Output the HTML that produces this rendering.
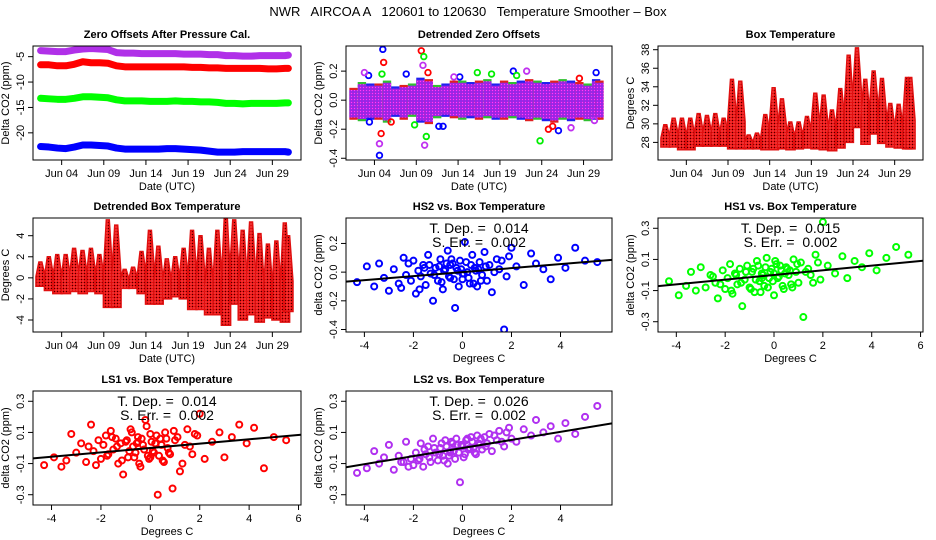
<!DOCTYPE html>
<html><head><meta charset="utf-8"><style>
body{margin:0;background:#fff}
svg{display:block;font-family:"Liberation Sans",sans-serif}
</style></head><body>
<svg id="c" width="936" height="540" viewBox="0 0 936 540">
<defs>
<pattern id="pt" width="3" height="3" patternUnits="userSpaceOnUse"><rect width="3" height="3" fill="#e81010"/><rect x="0" y="0" width="1" height="1" fill="#400000"/><rect x="1.5" y="1.5" width="1" height="1" fill="#ff9090"/></pattern>
<pattern id="pz" width="3" height="3" patternUnits="userSpaceOnUse"><rect width="3" height="3" fill="#b020e0"/><rect x="0" y="0" width="1" height="1" fill="#ff40ff"/><rect x="1.5" y="1.5" width="1" height="1" fill="#4040ff"/></pattern>
<pattern id="pp" width="3" height="3" patternUnits="userSpaceOnUse"><rect width="3" height="3" fill="#c040f0"/><rect x="0" y="0" width="1.2" height="1.2" fill="#3030ff"/><rect x="1.5" y="1.5" width="1" height="1" fill="#ff60ff"/></pattern>
</defs>
<text x="468" y="16" text-anchor="middle" font-size="13" style="white-space:pre" xml:space="preserve">NWR   AIRCOA A   120601 to 120630   Temperature Smoother – Box</text>
</svg>
<script>
// ---- data ----
const days=[1.5,2.5,3.5,4.5,5.5,6.5,7.5,8.5,9.5,10.5,11.5,12.5,13.5,14.5,15.5,16.5,17.5,18.5,19.5,20.5,21.5,22.5,23.5,24.5,25.5,26.5,27.5,28.5,29.5,30.5,30.9];
const zeroPurple=[-3.8,-3.9,-4.0,-4.0,-3.7,-3.5,-3.4,-3.5,-3.6,-4.2,-4.3,-4.3,-4.4,-4.4,-4.4,-4.4,-4.4,-4.5,-4.5,-4.5,-4.6,-4.6,-4.8,-4.8,-4.9,-4.9,-4.8,-4.8,-4.8,-4.8,-4.7];
const zeroRed=[-6.6,-6.6,-6.8,-6.8,-6.5,-6.0,-6.2,-6.2,-6.3,-6.8,-7.0,-7.0,-7.0,-7.0,-7.0,-7.0,-7.0,-7.0,-7.1,-7.1,-7.2,-7.2,-7.3,-7.3,-7.3,-7.3,-7.3,-7.4,-7.4,-7.3,-7.3];
const zeroGreen=[-13.2,-13.3,-13.4,-13.4,-13.2,-12.9,-12.9,-13.0,-13.1,-13.5,-13.7,-13.7,-13.7,-13.8,-13.8,-13.8,-13.7,-13.8,-13.8,-13.9,-13.9,-14.0,-14.2,-14.2,-14.3,-14.2,-14.2,-14.2,-14.2,-14.1,-14.1];
const zeroBlue=[-22.7,-22.8,-23.0,-23.1,-22.8,-22.4,-22.4,-22.5,-22.6,-23.0,-23.2,-23.2,-23.2,-23.2,-23.2,-23.1,-23.1,-23.2,-23.3,-23.4,-23.6,-23.8,-23.8,-23.8,-23.7,-23.7,-23.7,-23.7,-23.7,-23.7,-23.8];
const detZeroLo=[-0.12,-0.13,-0.12,-0.12,-0.14,-0.10,-0.12,-0.10,-0.14,-0.15,-0.11,-0.10,-0.11,-0.12,-0.11,-0.12,-0.11,-0.12,-0.12,-0.11,-0.12,-0.13,-0.12,-0.13,-0.14,-0.12,-0.13,-0.12,-0.13,-0.12,-0.12];
const detZeroHi=[0.07,0.11,0.10,0.10,0.12,0.08,0.09,0.10,0.14,0.13,0.09,0.10,0.12,0.12,0.11,0.12,0.13,0.10,0.12,0.11,0.12,0.13,0.12,0.11,0.12,0.13,0.12,0.11,0.10,0.13,0.12];
const outDay=[4.6,4.6,4.8,4.9,5.0,5.1,9.6,9.8,9.9,10.2,10.4,3.3,3.4,10.0,12.2,23.8,20.6,22.2,24.8,26.0,27.5,28.5,16.3,14.2,2.8,7.8,11.7,18.0,25.3,30.5,30.3,21.0,13.5,8.8,6.0];
const outVal=[-0.38,-0.30,-0.23,0.18,0.35,0.26,0.34,0.24,0.30,-0.25,0.19,0.17,-0.15,-0.31,-0.18,-0.28,0.20,0.20,-0.20,-0.21,-0.19,0.15,0.19,0.16,0.19,0.18,-0.18,0.18,-0.18,0.19,-0.14,0.17,0.16,-0.17,-0.15];
const outCol=[2,3,0,1,2,0,0,3,1,1,0,2,2,3,2,1,2,3,0,2,3,0,1,2,3,2,2,1,0,2,3,1,3,1,0];
const tempLo=[27.5,27.5,27.2,27.2,27.6,27.6,27.6,27.6,27.3,27.3,27.3,27.3,27.2,27.2,27.3,27.2,27.3,27.4,27.3,27.2,27.1,27.4,28.0,29.6,27.8,28.9,27.9,27.5,27.4,27.3,27.3];
const tempHi=[29.9,30.6,30.6,30.6,31.1,30.9,31.1,30.6,34.8,34.6,28.8,29.0,31.0,33.9,32.7,30.2,30.2,30.8,33.3,33.1,31.5,33.8,37.4,38.2,34.8,35.7,34.9,32.2,32.1,35.0,35.0];
const detTempLo=[-0.8,-1.2,-1.5,-1.5,-1.3,-1.5,-1.3,-1.5,-2.8,-2.8,-1.0,-1.0,-1.5,-2.5,-2.5,-2.0,-1.8,-2.0,-3.0,-3.0,-3.5,-3.5,-4.5,-2.5,-4.0,-3.5,-4.2,-3.8,-4.0,-4.2,-3.2];
const detTempHi=[1.5,2.0,2.2,2.2,2.8,2.6,2.8,2.2,5.5,5.0,0.8,1.0,2.5,4.5,3.0,1.8,2.0,2.8,4.5,4.0,2.8,4.5,5.8,5.5,4.5,5.3,4.2,3.2,3.5,5.2,4.0];
const boxT=[-4.3,-3.9,-3.6,-3.4,-3.2,-3.0,-2.8,-2.6,-2.4,-2.3,-2.1,-2.0,-1.9,-1.8,-1.7,-1.6,-1.5,-1.4,-1.3,-1.2,-1.1,-1.0,-0.9,-0.8,-0.7,-0.6,-0.5,-0.4,-0.3,-0.2,-0.1,0.0,0.1,0.2,0.3,0.4,0.5,0.6,0.7,0.8,0.9,1.0,1.1,1.2,1.4,1.5,1.7,1.9,2.0,2.2,2.5,2.8,3.0,3.3,3.6,3.9,4.2,4.6,5.0,5.5,-1.35,-1.15,-0.95,-0.85,-0.75,-0.65,-0.55,-0.45,-0.35,-0.25,-0.15,-0.05,0.05,0.15,0.25,0.35,0.45,0.55,-1.75,-1.55,-2.2,-2.5,0.65,0.75,0.95,1.3,1.6,1.8,-0.5,0.0];
const ls1Y=[-0.11,-0.06,-0.12,-0.08,0.09,-0.03,0.03,-0.09,0.15,-0.02,0.05,-0.07,0.02,0.08,-0.04,0.11,-0.01,0.06,-0.10,0.03,-0.17,0.04,-0.06,0.12,0.01,-0.03,0.07,-0.12,0.02,0.18,-0.05,0.09,-0.02,0.03,-0.30,0.06,-0.08,0.10,0.00,-0.04,-0.26,0.05,0.07,-0.15,0.02,0.12,-0.04,0.08,0.22,-0.07,0.04,0.10,-0.06,0.07,0.15,0.03,0.13,-0.13,0.07,0.05,0.01,-0.08,0.05,-0.02,0.10,-0.06,0.03,-0.10,0.06,-0.01,0.14,-0.07,0.04,-0.03,0.08,-0.05,0.02,-0.09,-0.05,0.07,-0.11,0.01,0.06,-0.03,0.11,-0.10,0.01,0.09,0.04,-0.06];
const hs1Y=[-0.04,-0.13,-0.07,0.02,-0.10,0.05,-0.08,0.00,-0.05,-0.15,0.03,-0.09,-0.02,0.07,-0.12,0.01,-0.06,0.04,-0.20,-0.03,0.06,-0.08,0.02,-0.11,0.09,-0.04,0.01,-0.07,0.11,-0.02,0.04,-0.13,0.07,-0.01,0.03,-0.09,0.05,0.00,-0.06,0.10,0.02,-0.05,0.08,-0.27,0.04,0.00,0.13,-0.03,0.34,0.06,0.01,0.12,-0.02,0.09,0.05,0.14,0.03,0.11,0.18,0.13,-0.05,0.02,-0.09,0.04,-0.03,0.06,-0.11,0.00,0.05,-0.08,0.02,-0.04,0.09,-0.02,0.06,-0.07,0.01,0.04,-0.10,0.00,-0.06,-0.01,0.03,-0.08,0.07,0.02,-0.05,0.08,-0.02,0.01];
const hs2Y=[-0.07,0.04,-0.10,0.06,-0.04,-0.13,0.02,-0.08,0.10,-0.02,-0.06,0.08,-0.15,0.01,-0.03,0.05,-0.09,0.12,-0.01,-0.20,0.03,-0.06,0.09,-0.12,0.02,0.15,-0.04,0.06,-0.25,0.01,0.08,-0.05,0.21,0.00,-0.08,0.12,0.03,-0.10,0.07,-0.02,0.14,-0.06,0.05,-0.14,0.09,0.02,-0.40,0.11,0.17,0.04,-0.09,0.13,0.06,0.02,-0.05,0.10,0.03,0.17,0.08,0.07,0.05,-0.02,0.04,-0.07,0.01,0.06,-0.03,0.09,-0.05,0.03,-0.10,0.02,-0.01,0.07,-0.04,0.05,-0.08,0.01,-0.12,0.03,0.06,-0.11,0.02,-0.06,0.04,0.00,0.08,-0.03,0.05,-0.01];
const ls2Y=[-0.16,-0.13,-0.02,-0.10,-0.06,0.02,-0.14,-0.05,-0.09,0.04,-0.07,-0.11,-0.03,-0.08,0.03,-0.12,-0.04,0.01,-0.09,0.06,-0.03,-0.08,0.00,-0.05,0.05,-0.10,-0.02,0.03,-0.07,0.02,-0.22,0.01,-0.04,0.06,0.00,0.04,-0.03,0.08,0.02,-0.01,0.07,0.03,0.09,-0.02,0.05,0.11,0.01,0.13,0.06,0.04,0.12,0.08,0.18,0.10,0.14,0.06,0.16,0.09,0.20,0.27,-0.06,0.00,-0.04,0.03,-0.08,0.01,-0.05,0.04,-0.02,0.06,-0.03,0.02,-0.06,0.05,-0.01,0.07,0.00,-0.04,-0.07,-0.01,-0.12,-0.09,0.03,0.06,0.01,0.08,0.04,0.10,-0.03,0.02];
const slopes=[0.014,0.015,0.014,0.026];
const stdErrs=["0.002","0.002","0.002","0.002"];
const dayTicks=[4,9,14,19,24,29];
const dayTickLabels=["Jun 04","Jun 09","Jun 14","Jun 19","Jun 24","Jun 29"];
const tempXTicks=[-4,-2,0,2,4,6];

// ---- drawing ----
const NS="http://www.w3.org/2000/svg";
const svg=document.getElementById('c');
function el(tag,attrs,parent){const e=document.createElementNS(NS,tag);for(const k in attrs)e.setAttribute(k,attrs[k]);(parent||svg).appendChild(e);return e;}
const Ls=[33,346,658],Rs=[301,612,923],Ts=[46,218,391];
function panel(col,row,name,title,xlab,ylab,ymin,ymax,yticks,ytl,xmin,xmax,xticks,xtl){
  const g=el('g',{});
  
  
  const L=Ls[col],R=Rs[col],T=Ts[row],B=T+114;
  const sy=v=>B-(v-ymin)/(ymax-ymin)*(B-T);
  const sx=v=>L+(v-xmin)/(xmax-xmin)*(R-L);
  const t=el('text',{x:(L+R)/2,y:T-8,'text-anchor':'middle','font-size':11,'font-weight':'bold'},g);t.textContent=title;
  
  const xl=el('text',{x:(L+R)/2,y:B+30,'text-anchor':'middle','font-size':11},g);xl.textContent=xlab;
  
  const yl=el('text',{x:0,y:0,transform:`translate(${L-24},${(T+B)/2}) rotate(-90)`,'text-anchor':'middle','font-size':11},g);yl.textContent=ylab;
  
  xticks.forEach((v,i)=>{const x=sx(v);el('line',{x1:x,x2:x,y1:B,y2:B+5,stroke:'#000'},g);
    const tl=el('text',{x:x,y:B+17,'text-anchor':'middle','font-size':11},g);tl.textContent=xtl[i];
    });
  yticks.forEach((v,i)=>{const y=sy(v);el('line',{x1:L-5,x2:L,y1:y,y2:y,stroke:'#000'},g);
    const tl=el('text',{x:0,y:0,transform:`translate(${L-9},${y}) rotate(-90)`,'text-anchor':'middle','font-size':11},g);tl.textContent=ytl[i];
    });
  const clip=el('clipPath',{id:'cl'+col+row},g);el('rect',{x:L,y:T,width:R-L,height:B-T},clip);
  const plot=el('g',{'clip-path':`url(#cl${col}${row})`},g);
  return {g,plot,sx,sy,L,R,T,B};
}
// Panel 1
const d0=0.6,d1=32.4;
let p=panel(0,0,'zero-offsets-panel','Zero Offsets After Pressure Cal.','Date (UTC)','Delta CO2 (ppm)',-25.35,-2.9,[-5,-10,-15,-20],['-5','-10','-15','-20'],d0,d1,dayTicks,dayTickLabels);
[[zeroBlue,'#0000ff','series-blue'],[zeroGreen,'#00ff00','series-green'],[zeroRed,'#ff0000','series-red'],[zeroPurple,'#b030e8','series-purple']].forEach(([arr,c,n])=>{
  const pts=days.map((d,i)=>p.sx(d)+','+p.sy(arr[i])).join(' ');
  const l=el('polyline',{points:pts,fill:'none',stroke:c,'stroke-width':7,'stroke-linecap':'round','stroke-linejoin':'round'},p.plot);
  
});
el('rect',{x:p.L,y:p.T,width:p.R-p.L,height:114,fill:'none',stroke:'#000'},p.g);
// Panel 2
p=panel(1,0,'detrended-zero-offsets-panel','Detrended Zero Offsets','Date (UTC)','Delta CO2 (ppm)',-0.412,0.373,[0.2,0.0,-0.2,-0.4],['0.2','0.0','-0.2','-0.4'],d0,d1,dayTicks,dayTickLabels);
days.forEach((d,i)=>{
  const x1=p.sx(d-0.5),x2=p.sx(d+0.5);
  const b=el('rect',{x:x1,y:p.sy(detZeroHi[i]+0.015),width:x2-x1,height:p.sy(detZeroLo[i]-0.015)-p.sy(detZeroHi[i]+0.015),fill:i%3===0?'#e02020':(i%3===1?'#30c030':'#2020f0')},p.plot);
  
  const r=el('rect',{x:x1,y:p.sy(detZeroHi[i]),width:x2-x1,height:p.sy(detZeroLo[i])-p.sy(detZeroHi[i]),fill:'url(#pz)'},p.plot);
  
});
const oc=['#ff0000','#00ee00','#0000ff','#c030f0'];
outDay.forEach((d,i)=>{const c=el('circle',{cx:p.sx(d),cy:p.sy(outVal[i]),r:2.8,fill:'none',stroke:oc[outCol[i]],'stroke-width':1.8},p.plot);
  });
el('rect',{x:p.L,y:p.T,width:p.R-p.L,height:114,fill:'none',stroke:'#000'},p.g);
// Panel 3 & 4 temperature bands
function tempPanel(col,row,name,title,ylab,ymin,ymax,yt,ytl,lo,hi){
  const p=panel(col,row,name,title,'Date (UTC)',ylab,ymin,ymax,yt,ytl,d0,d1,dayTicks,dayTickLabels);
  days.forEach((d,i)=>{
    const mid=lo[i]+(hi[i]-lo[i])*0.4;
    const pts=[[d-0.55,lo[i]],[d-0.55,mid],[d-0.2,hi[i]],[d+0.15,hi[i]],[d+0.55,mid],[d+0.55,lo[i]]].map(q=>p.sx(q[0])+','+p.sy(q[1])).join(' ');
    const s=el('polygon',{points:pts,fill:'url(#pt)',stroke:'#e01010','stroke-width':1.5},p.plot);
    
  });
  el('rect',{x:p.L,y:p.T,width:p.R-p.L,height:114,fill:'none',stroke:'#000'},p.g);
}
tempPanel(2,0,'box-temperature-panel','Box Temperature','Degrees C',26.1,38.4,[28,30,32,34,36,38],['28','30','32','34','36','38'],tempLo,tempHi);
tempPanel(0,1,'detrended-box-temp-panel','Detrended Box Temperature','Degrees C',-5.14,5.68,[-4,-2,0,2,4],['-4','-2','0','2','4'],detTempLo,detTempHi);
// Scatter panels
function scatter(col,row,name,title,ys,color,k,ymin,ymax,yt,ytl){
  const xmin=-4.75,xmax=6.1;
  const xt=col===1?[-4,-2,0,2,4]:tempXTicks;
  const p=panel(col,row,name,title,'Degrees C','delta CO2 (ppm)',ymin,ymax,yt,ytl,xmin,xmax,xt,xt.map(String));
  boxT.forEach((x,i)=>{const c=el('circle',{cx:p.sx(x),cy:p.sy(ys[i]),r:3,fill:'none',stroke:color,'stroke-width':2},p.plot);
    });
  const ln=el('line',{x1:p.sx(xmin),y1:p.sy(slopes[k]*xmin),x2:p.sx(xmax),y2:p.sy(slopes[k]*xmax),stroke:'#000','stroke-width':2},p.plot);
  
  const cx=(p.L+p.R)/2;
  const a=el('text',{x:cx,y:p.T+15,'text-anchor':'middle','font-size':14,style:'white-space:pre'},p.g);a.textContent='T. Dep. =  '+slopes[k].toFixed(3);
  
  const b=el('text',{x:cx,y:p.T+29,'text-anchor':'middle','font-size':14,style:'white-space:pre'},p.g);b.textContent='S. Err. =  '+stdErrs[k];
  
  el('rect',{x:p.L,y:p.T,width:p.R-p.L,height:114,fill:'none',stroke:'#000'},p.g);
}
const t3=[0.3,0.1,-0.1,-0.3],t3l=['0.3','0.1','-0.1','-0.3'];
scatter(1,1,'hs2-scatter-panel','HS2 vs. Box Temperature',hs2Y,'#0000ff',0,-0.4175,0.3775,[0.2,0.0,-0.2,-0.4],['0.2','0.0','-0.2','-0.4']);
scatter(2,1,'hs1-scatter-panel','HS1 vs. Box Temperature',hs1Y,'#00ff00',1,-0.366,0.366,t3,t3l);
scatter(0,2,'ls1-scatter-panel','LS1 vs. Box Temperature',ls1Y,'#ff0000',2,-0.366,0.366,t3,t3l);
scatter(1,2,'ls2-scatter-panel','LS2 vs. Box Temperature',ls2Y,'#b030f0',3,-0.366,0.366,t3,t3l);
</script>
</body></html>
